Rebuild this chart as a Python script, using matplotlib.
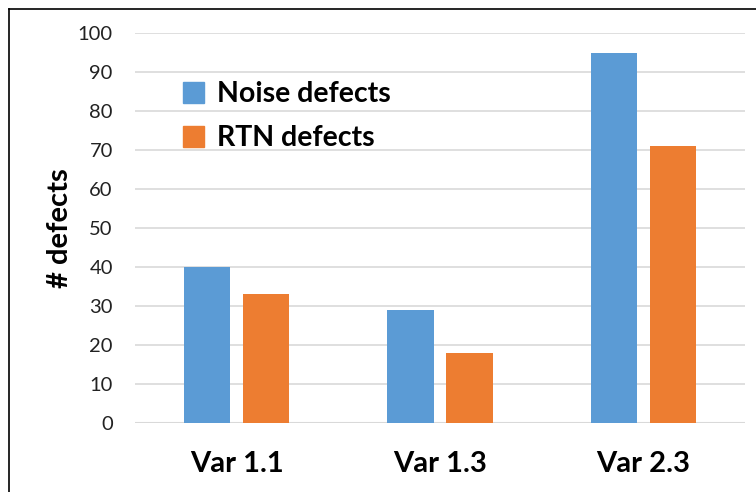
import numpy as np
import matplotlib.pyplot as plt
from matplotlib.lines import Line2D
from matplotlib.patches import Patch

categories = ["Var 1.1", "Var 1.3", "Var 2.3"]
noise_defects = [40, 29, 95]
rtn_defects = [33, 18, 71]
yticks = list(range(0, 101, 10))

blue = "#5B9BD5"
orange = "#ED7D31"
plt.rcParams['font.family'] = ['Lato', 'DejaVu Sans']

fig = plt.figure(figsize=(7.56, 4.92), dpi=100)
ax = fig.add_axes([135/756, 1-423/492, 610/756, 390/492])

x = np.arange(len(categories))
w = 0.227
ax.bar(x - 0.145, noise_defects, w, color=blue, zorder=3)
ax.bar(x + 0.145, rtn_defects, w, color=orange, zorder=3)

ax.set_xlim(-0.5, 2.5)
ax.set_ylim(0, 100)
ax.set_yticks(yticks)
ax.grid(axis='y', color='#D9D9D9', linewidth=1.2, zorder=0)
for s in ax.spines.values():
    s.set_visible(False)
ax.axhline(0, color='#D9D9D9', linewidth=1.5, zorder=1)
ax.tick_params(axis='both', length=0)
ax.tick_params(axis='y', labelsize=14.5, pad=16, labelcolor='#222222')
ax.set_xticks(x)
ax.set_xticklabels(categories, fontsize=21, fontweight='bold')
ax.tick_params(axis='x', pad=20)
ax.set_ylabel("# defects", fontsize=21, fontweight='bold', labelpad=3)

handles = [Patch(color=blue), Patch(color=orange)]
ax.legend(handles, ["Noise defects", "RTN defects"], loc='upper left',
          bbox_to_anchor=(0.06, 0.905), frameon=False,
          prop={'size': 20.5, 'weight': 'bold'}, handlelength=0.75,
          handleheight=0.75, handletextpad=0.45, labelspacing=0.62,
          borderaxespad=0)

# outer border (left and top visible)
fig.add_artist(Line2D([9/756, 9/756], [0, 1-9/492], color='black', lw=1.2,
                      transform=fig.transFigure))
fig.add_artist(Line2D([9/756, 1], [1-9/492, 1-9/492], color='black', lw=1.2,
                      transform=fig.transFigure))

fig.savefig("out.png", dpi=100)
